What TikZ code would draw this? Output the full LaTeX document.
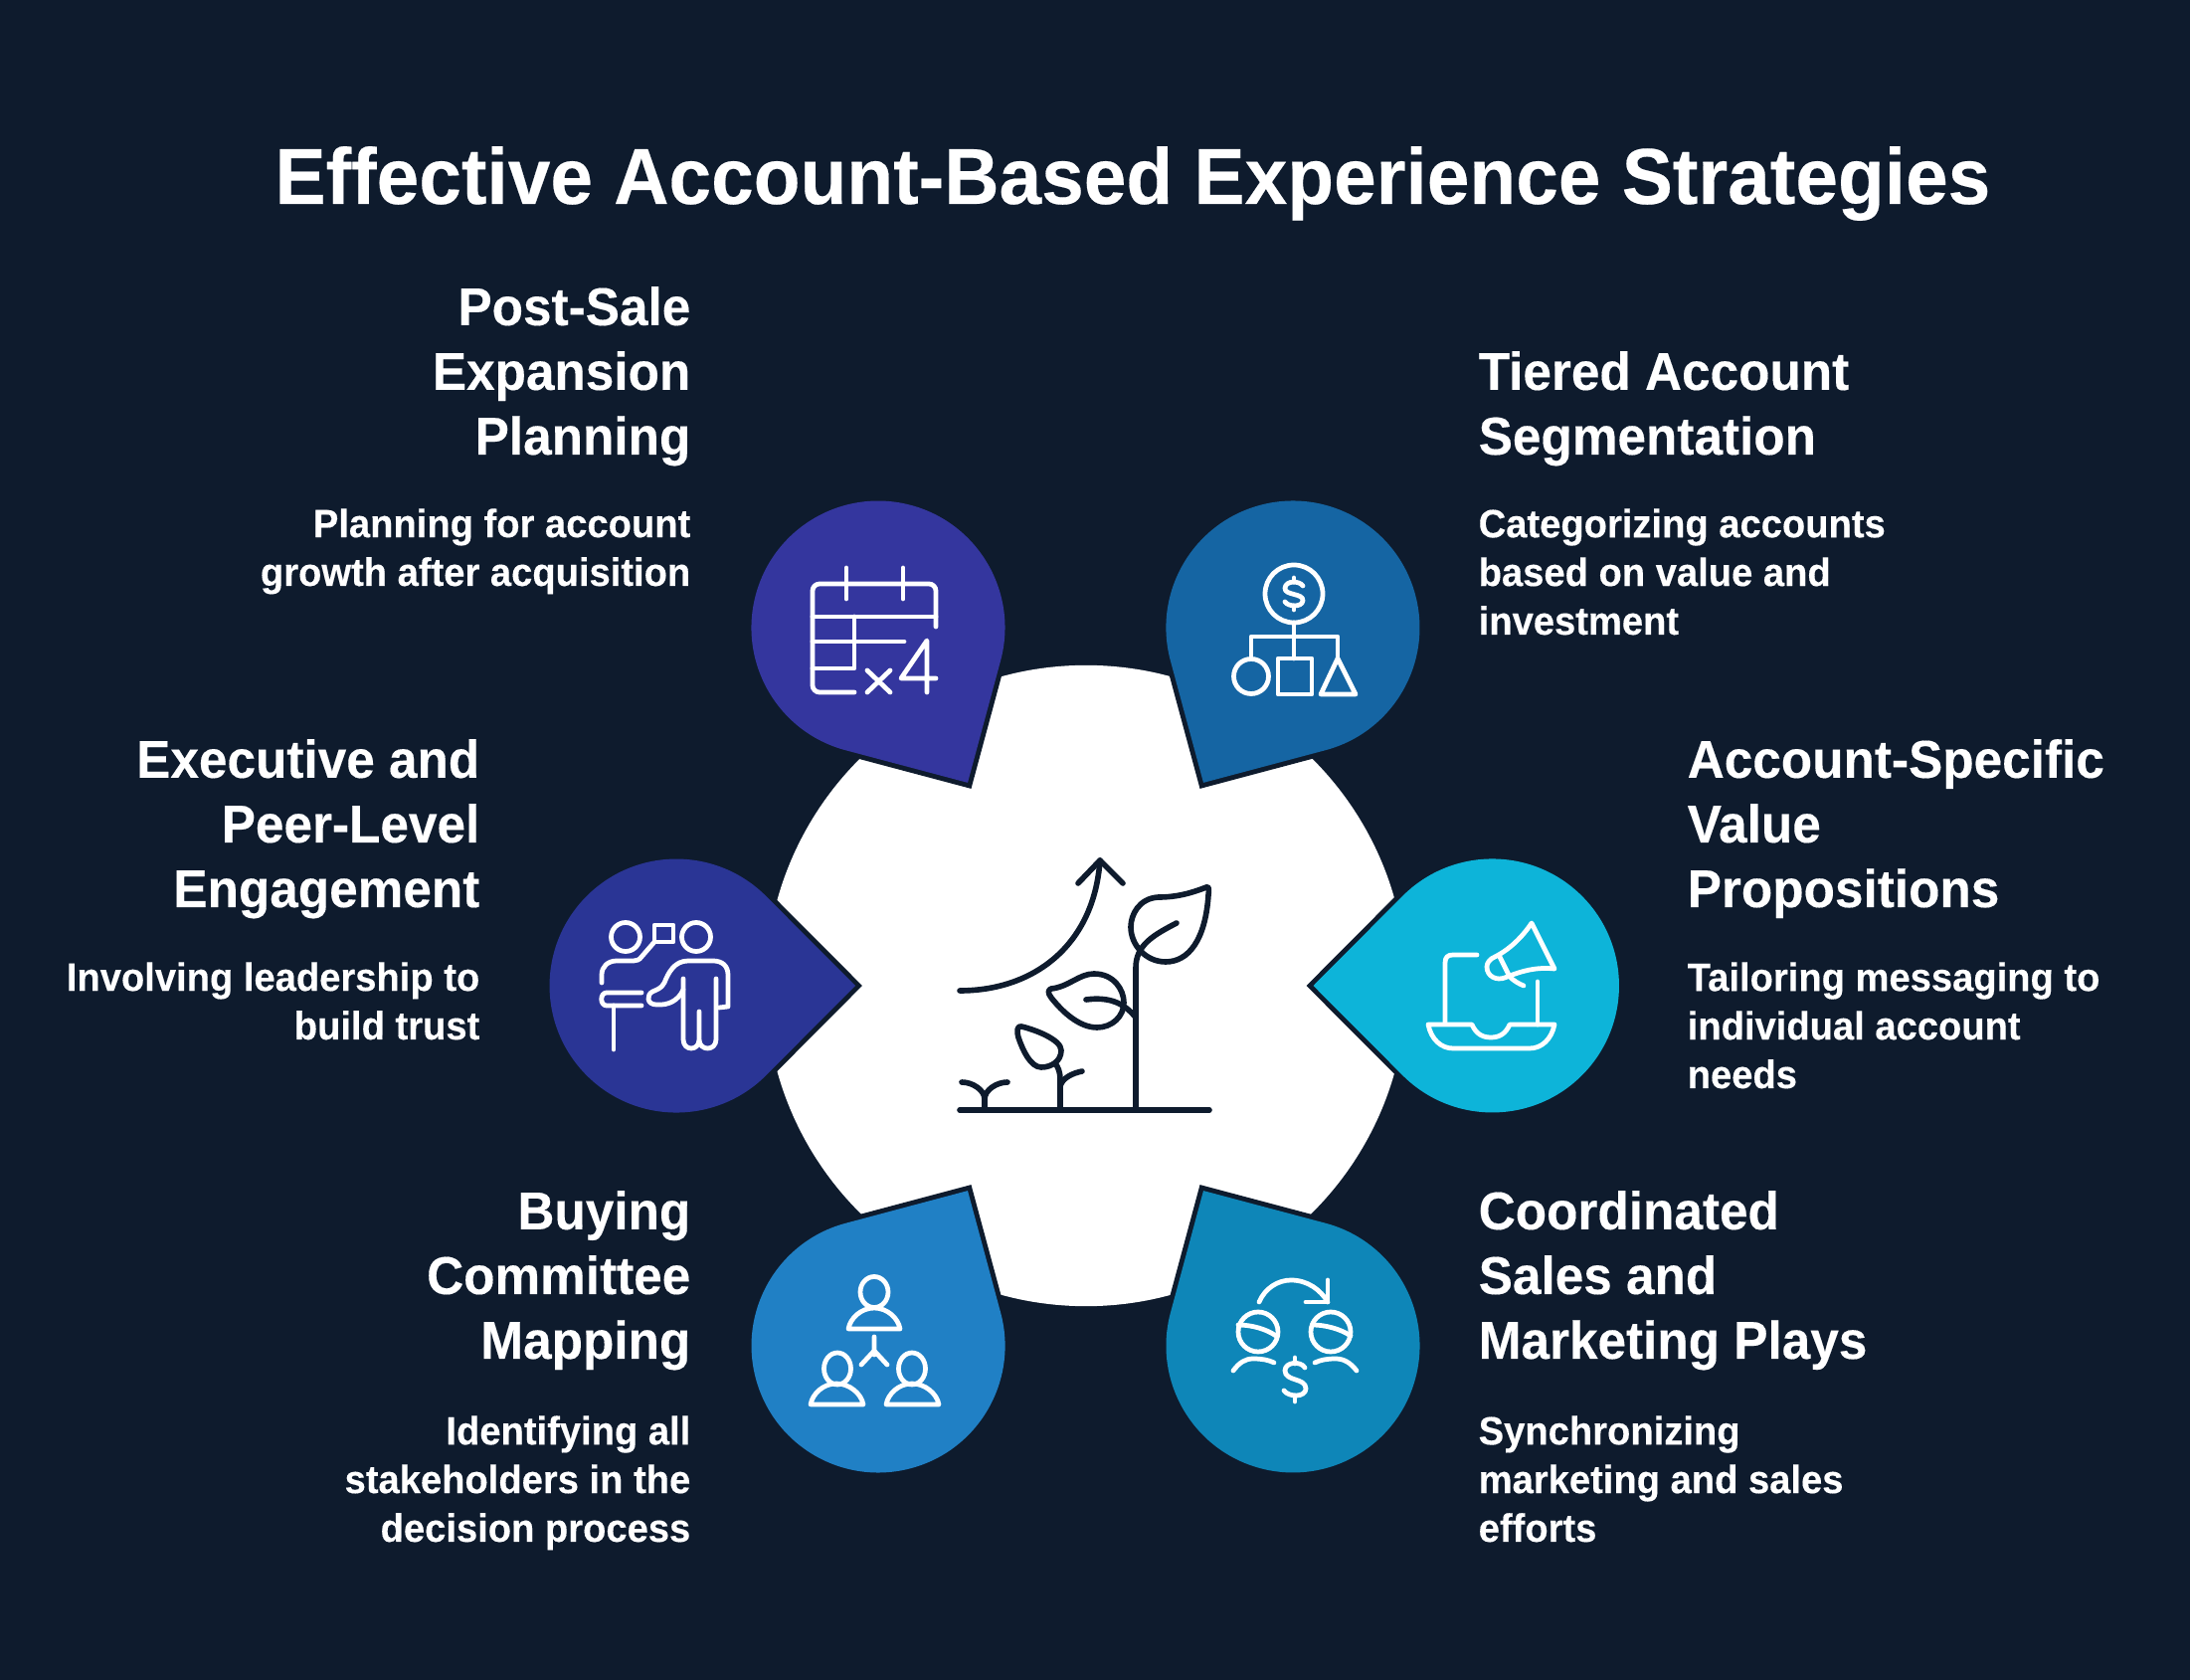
\documentclass[tikz,border=0pt]{standalone}
\usepackage{fontspec}
\setmainfont[FakeStretch=0.96,BoldFeatures={FakeStretch=0.96,FakeBold=0.25}]{Liberation Sans}
\usetikzlibrary{arrows,positioning}
\definecolor{navybg}{HTML}{0E1B2D}
\definecolor{dropa}{HTML}{1565A3}
\definecolor{dropb}{HTML}{0DB4D9}
\definecolor{dropc}{HTML}{0E86B8}
\definecolor{dropd}{HTML}{2080C5}
\definecolor{drope}{HTML}{2A3595}
\definecolor{dropf}{HTML}{34369E}
\tikzstyle{ttl}=[inner sep=0pt,text=white,anchor=base,font=\fontsize{22.7}{27}\selectfont\bfseries]
\tikzstyle{headl}=[inner sep=0pt,text=white,anchor=base west,align=left,font=\fontsize{15.2}{18.5}\selectfont\bfseries]
\tikzstyle{headr}=[headl,anchor=base east,align=right]
\tikzstyle{descl}=[inner sep=0pt,text=white,anchor=base west,align=left,font=\fontsize{11.3}{13.9}\selectfont\bfseries]
\tikzstyle{descr}=[descl,anchor=base east,align=right]
\tikzstyle{icon}=[draw=white,line width=1.35pt,line cap=round,line join=round]
\tikzstyle{plant}=[draw=navybg,line width=1.6pt,line cap=round,line join=round]
\begin{document}
\begin{tikzpicture}[x=0.01cm,y=-0.01cm]
\fill[navybg] (0,0) rectangle (2202,1689);
\useasboundingbox (0,0) rectangle (2202,1689);
\node (title) [ttl] at (1139,205) {Effective Account-Based Experience Strategies};
\node (hub) [circle,fill=white,minimum size=6.44cm,inner sep=0pt] at (1092,991) {};
%six drops, tip towards the hub
\foreach \cx/\cy/\ang/\col in {1300/631/-120/dropa,1500.5/991/180/dropb,1300/1353/120/dropc,883/1353/60/dropd,680/991/0/drope,883/631/-60/dropf}
{
\begin{scope}[shift={(\cx,\cy)},rotate=\ang]
\path[fill=\col,preaction={draw=navybg,line width=2.8pt}] (180,0) -- (90.2,90.2) arc[start angle=45,end angle=315,radius=127.5] -- cycle;
\end{scope}
}
%texts
\node (h1) [headl] at (1486,457) {Tiered Account\\Segmentation};
\node (d1) [descl] at (1486,638) {Categorizing accounts\\based on value and\\investment};
\node (h2) [headl] at (1696,912) {Account-Specific\\Value\\Propositions};
\node (d2) [descl] at (1696,1094) {Tailoring messaging to\\individual account\\needs};
\node (h3) [headl] at (1486,1366) {Coordinated\\Sales and\\Marketing Plays};
\node (d3) [descl] at (1486,1550) {Synchronizing\\marketing and sales\\efforts};
\node (h4) [headr] at (695,1366) {Buying\\Committee\\Mapping};
\node (d4) [descr] at (695,1550) {Identifying all\\stakeholders in the\\decision process};
\node (h5) [headr] at (483,912) {Executive and\\Peer-Level\\Engagement};
\node (d5) [descr] at (483,1045) {Involving leadership to\\build trust};
\node (h6) [headr] at (695,457) {Post-Sale\\Expansion\\Planning};
\node (d6) [descr] at (695,589) {Planning for account\\growth after acquisition};
%plant
\draw[plant] (965,1116) -- (1216,1116);
\draw[plant] (965,996) .. controls (1040,996) and (1100,950) .. (1106,865);
\draw[plant] (1084,888) -- (1106,865) -- (1129,888);
\draw[plant] (1142,1116) -- (1142,973) .. controls (1142,950) and (1160,940) .. (1183,928);
\draw[plant] (1213,892) .. controls (1200,897) and (1185,902) .. (1165,902) .. controls (1145,903) and (1137,920) .. (1137,932) .. controls (1137,950) and (1152,967) .. (1172,967) .. controls (1195,967) and (1212,945) .. (1215,900) .. controls (1216,893) and (1215,891) .. (1213,892) -- cycle;
\draw[plant] (1057,994) .. controls (1075,992) and (1085,979) .. (1100,979) .. controls (1120,979) and (1130,995) .. (1130,1008) .. controls (1130,1022) and (1118,1033) .. (1103,1033) .. controls (1085,1033) and (1068,1017) .. (1057,1003) .. controls (1053,998) and (1054,995) .. (1057,994) -- cycle;
\draw[plant] (1092,1005) .. controls (1115,1002) and (1130,1008) .. (1142,1023);
\draw[plant] (1027,1032) .. controls (1040,1035) and (1067,1045) .. (1067,1056) .. controls (1067,1067) and (1057,1073) .. (1047,1073) .. controls (1036,1073) and (1028,1055) .. (1024,1043) .. controls (1022,1036) and (1023,1031) .. (1027,1032) -- cycle;
\draw[plant] (1066,1116) -- (1066,1085) .. controls (1066,1078) and (1064,1073) .. (1061,1069);
\draw[plant] (1066,1092) .. controls (1068,1084) and (1078,1079) .. (1088,1077);
\draw[plant] (990,1116) -- (990,1105) .. controls (990,1096) and (978,1088) .. (967,1088);
\draw[plant] (990,1105) .. controls (990,1096) and (1002,1088) .. (1013,1088);
%calendar
\draw[icon,rounded corners=2pt] (859,696) -- (817,696) -- (817,587) -- (941,587) -- (941,630);
\draw[icon] (851,571) -- (851,602) (908,571) -- (908,602);
\draw[icon] (817,620) -- (941,620) (859,620) -- (859,672) -- (817,672) (817,645) -- (909,645);
\draw[icon] (872,674) -- (895,696) (895,674) -- (872,696);
\draw[icon] (941,682) -- (906,682) -- (932,644) -- (932,696);
%org chart
\draw[icon] (1301,597) circle (29);
\draw[icon] (1310,589) .. controls (1307,584) and (1293,583) .. (1292,591) .. controls (1291,599) and (1311,596) .. (1310,604) .. controls (1309,611) and (1295,610) .. (1292,605);
\draw[icon] (1301,581) -- (1301,585) (1301,609) -- (1301,613);
\draw[icon] (1301,626) -- (1301,662) (1258,662) -- (1258,640) -- (1345,640) -- (1345,662);
\draw[icon] (1258,680) circle (17.5);
\draw[icon] (1285,662) rectangle (1319,698);
\draw[icon] (1345,662) -- (1328,698) -- (1363,698) -- cycle;
%laptop
\draw[icon] (1453,1028) -- (1453,968) .. controls (1453,962) and (1456,960) .. (1461,960) -- (1485,960);
\draw[icon] (1546,987) -- (1546,1030);
\draw[icon] (1436,1030) -- (1480,1030) .. controls (1484,1039) and (1490,1043) .. (1499,1043) .. controls (1508,1043) and (1514,1039) .. (1518,1030) -- (1563,1030) .. controls (1560,1045) and (1550,1054) .. (1538,1054) -- (1461,1054) .. controls (1449,1054) and (1439,1045) .. (1436,1030) -- cycle;
\draw[icon] (1503,962) .. controls (1517,955) and (1530,943) .. (1540,928) -- (1563,974) .. controls (1545,972) and (1530,976) .. (1513,983) .. controls (1505,986) and (1495,982) .. (1495,972) .. controls (1495,968) and (1498,964) .. (1503,962) -- cycle;
\draw[icon] (1508,962) -- (1518,982) .. controls (1522,986) and (1527,989) .. (1532,991);
%presenter
\draw[icon] (629,942) circle (14.5) (700,942) circle (14.5);
\draw[icon] (658,930) rectangle (677,947);
\draw[icon] (658,947) -- (645,962) .. controls (643,965) and (640,966) .. (637,966) -- (620,966) .. controls (611,966) and (605,972) .. (605,980) -- (605,988);
\draw[icon] (645,998) -- (610,998) .. controls (603,998) and (603,1011) .. (610,1011) -- (645,1011);
\draw[icon] (617,1011) -- (617,1055);
\draw[icon] (687,984) -- (687,1045) .. controls (687,1057) and (703,1057) .. (703,1045) -- (703,1017) (703,1045) .. controls (703,1057) and (720,1057) .. (720,1045) -- (720,984);
\draw[icon] (723,1013) -- (732,1012) -- (732,980) .. controls (732,971) and (726,966) .. (717,966) -- (692,966) .. controls (678,966) and (672,978) .. (668,988) .. controls (665,994) and (660,995) .. (656,997) .. controls (650,1000) and (650,1010) .. (660,1010) .. controls (672,1011) and (682,1006) .. (687,995);
%people
\draw[icon] (879,1299) ellipse (14 and 15.5) (842,1376) ellipse (13.5 and 16) (917,1376) ellipse (13.5 and 16);
\draw[icon] (853,1336) .. controls (855,1325) and (866,1315) .. (879,1315) .. controls (892,1315) and (903,1325) .. (905,1336) -- cycle;
\draw[icon] (815,1412) .. controls (817,1401) and (828,1391) .. (841,1391) .. controls (854,1391) and (866,1401) .. (868,1412) -- cycle;
\draw[icon] (891,1412) .. controls (893,1401) and (904,1391) .. (917,1391) .. controls (930,1391) and (942,1401) .. (944,1412) -- cycle;
\draw[icon] (879,1344) -- (879,1362) (866,1372) -- (879,1358) -- (892,1372);
%sales plays
\draw[icon] (1266,1309) .. controls (1272,1295) and (1285,1287) .. (1298,1287) .. controls (1315,1287) and (1328,1297) .. (1335,1309);
\draw[icon] (1313,1309) -- (1335,1309) -- (1335,1287);
\draw[icon] (1265,1339) circle (20) (1338,1339) circle (20);
\draw[icon] (1245,1332) .. controls (1258,1332) and (1273,1336) .. (1283,1343);
\draw[icon] (1320,1332) .. controls (1332,1332) and (1348,1336) .. (1358,1343);
\draw[icon] (1240,1378) .. controls (1246,1370) and (1252,1366) .. (1260,1366) .. controls (1268,1366) and (1275,1367) .. (1281,1370);
\draw[icon] (1322,1370) .. controls (1328,1367) and (1335,1366) .. (1343,1366) .. controls (1351,1366) and (1358,1370) .. (1364,1378);
\draw[icon] (1312,1375) .. controls (1308,1368) and (1292,1369) .. (1292,1378) .. controls (1292,1389) and (1313,1385) .. (1313,1396) .. controls (1313,1405) and (1296,1405) .. (1291,1398);
\draw[icon] (1302,1365) -- (1302,1371) (1302,1403) -- (1302,1409);
\end{tikzpicture}
\end{document}
